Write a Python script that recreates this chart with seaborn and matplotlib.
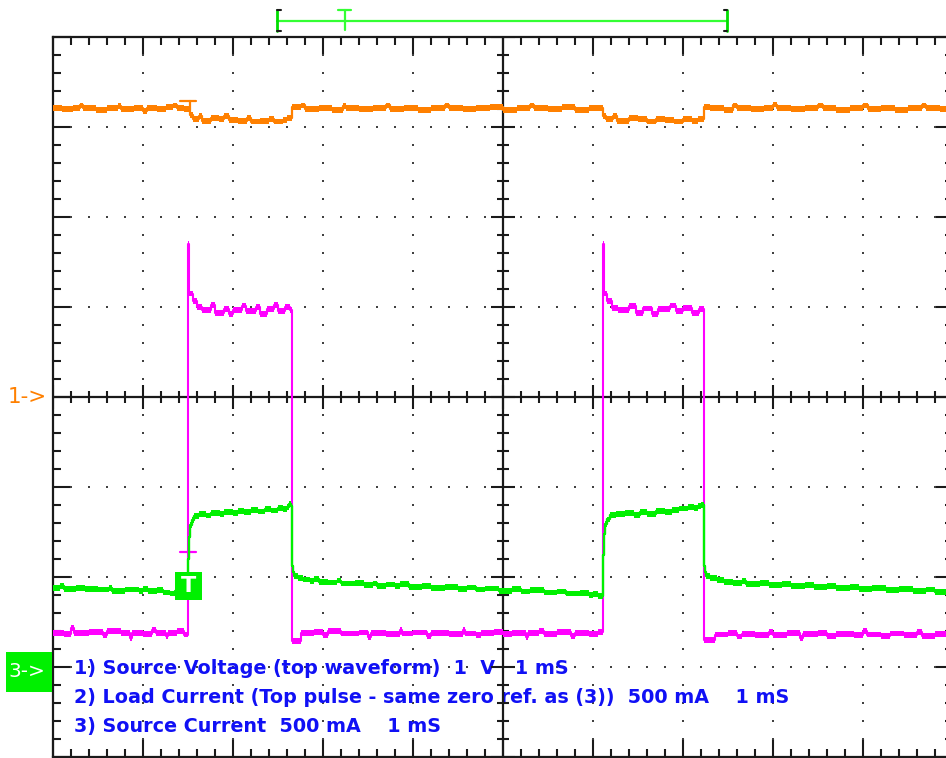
import numpy as np
import pandas as pd
import matplotlib
matplotlib.use("Agg")
import matplotlib.pyplot as plt
from matplotlib.patches import Rectangle
from matplotlib.ticker import MultipleLocator
import seaborn as sns

# ---------------- data (time in ms) ----------------
# Channel 1: source voltage [V]
ORANGE_T = [0.00, 0.10, 0.22, 0.30, 0.33, 0.48, 0.60, 0.72, 0.76, 0.90, 1.00, 1.04, 1.15, 1.25,
            1.33, 1.38, 1.46, 1.52, 1.55, 1.62, 1.66, 1.75, 1.84, 1.90, 1.95, 2.05, 2.15, 2.20,
            2.30, 2.40, 2.45, 2.55, 2.60, 2.66, 2.75, 2.80, 2.95, 3.10, 3.22, 3.26, 3.40, 3.55,
            3.70, 3.74, 3.90, 4.05, 4.20, 4.35, 4.40, 4.55, 4.70, 4.85, 5.00, 5.15, 5.30, 5.34,
            5.50, 5.65, 5.80, 5.95, 6.05, 6.11, 6.14, 6.22, 6.27, 6.40, 6.50, 6.60, 6.70, 6.80,
            6.90, 7.00, 7.10, 7.17, 7.23, 7.30, 7.45, 7.55, 7.60, 7.75, 7.90, 8.00, 8.04, 8.20,
            8.35, 8.50, 8.55, 8.70, 8.85, 9.00, 9.05, 9.20, 9.35, 9.50, 9.65, 9.70, 9.85, 10.00]
ORANGE_V = [3.21, 3.20, 3.21, 3.24, 3.21, 3.19, 3.21, 3.23, 3.20, 3.21, 3.18, 3.21, 3.20, 3.22,
            3.24, 3.21, 3.20, 3.13, 3.09, 3.12, 3.07, 3.10, 3.09, 3.12, 3.08, 3.07, 3.10, 3.06,
            3.07, 3.09, 3.06, 3.08, 3.10, 3.22, 3.24, 3.20, 3.21, 3.19, 3.23, 3.21, 3.20, 3.21,
            3.24, 3.20, 3.21, 3.19, 3.21, 3.24, 3.21, 3.20, 3.21, 3.22, 3.19, 3.21, 3.24, 3.21,
            3.20, 3.22, 3.19, 3.21, 3.21, 3.12, 3.09, 3.12, 3.07, 3.10, 3.09, 3.06, 3.09, 3.08,
            3.06, 3.09, 3.07, 3.09, 3.22, 3.21, 3.19, 3.24, 3.21, 3.20, 3.21, 3.25, 3.21, 3.20,
            3.21, 3.24, 3.21, 3.19, 3.21, 3.24, 3.20, 3.21, 3.19, 3.21, 3.24, 3.21, 3.20, 3.20]

# Channel 2: load current [mA]
MAGENTA_T = [0.00, 0.12, 0.20, 0.23, 0.40, 0.55, 0.60, 0.75, 0.85, 0.88, 1.00, 1.10, 1.14, 1.25,
             1.28, 1.38, 1.45, 1.50, 1.515, 1.55, 1.60, 1.66, 1.75, 1.80, 1.90, 1.95, 2.00, 2.10,
             2.14, 2.25, 2.30, 2.38, 2.45, 2.50, 2.58, 2.63, 2.656, 2.76, 2.90, 3.00, 3.05, 3.20,
             3.40, 3.50, 3.53, 3.70, 3.85, 3.88, 4.00, 4.15, 4.20, 4.40, 4.55, 4.58, 4.70, 4.75,
             4.90, 5.00, 5.10, 5.25, 5.28, 5.40, 5.45, 5.60, 5.75, 5.80, 5.95, 6.05, 6.11, 6.125,
             6.16, 6.21, 6.28, 6.40, 6.48, 6.55, 6.65, 6.72, 6.85, 6.92, 7.00, 7.10, 7.18, 7.235,
             7.36, 7.50, 7.60, 7.65, 7.80, 7.95, 8.00, 8.15, 8.30, 8.33, 8.50, 8.60, 8.70, 8.90,
             9.00, 9.04, 9.20, 9.30, 9.45, 9.60, 9.65, 9.80, 10.00]
MAGENTA_MA = [190, 182, 215, 188, 194, 178, 200, 188, 160, 190, 184, 205, 188, 170,
              190, 198, 180, 2350, 2075, 2035, 2000, 1982, 2010, 1965, 1990, 1960, 1985, 2008,
              1978, 1998, 1962, 1990, 2010, 1976, 1998, 1984, 145, 188, 194, 176, 202, 186,
              192, 166, 190, 184, 206, 186, 192, 174, 190, 184, 206, 186, 176, 190,
              196, 182, 190, 168, 190, 200, 184, 194, 174, 190, 184, 196, 2350, 2075,
              2035, 1995, 1982, 2005, 1968, 1992, 1962, 1988, 2008, 1976, 1994, 1966, 1988, 150,
              180, 188, 170, 184, 178, 196, 178, 188, 162, 182, 190, 172, 184, 178,
              198, 180, 172, 186, 178, 194, 172, 184, 182]

# Channel 3: source current [mA]
GREEN_T = [0.00, 0.08, 0.12, 0.25, 0.35, 0.50, 0.62, 0.66, 0.80, 0.95, 1.00, 1.05, 1.15, 1.22,
           1.30, 1.36, 1.40, 1.46, 1.50, 1.505, 1.515, 1.525, 1.54, 1.57, 1.62, 1.70, 1.75, 1.85,
           1.90, 2.00, 2.05, 2.12, 2.20, 2.28, 2.35, 2.42, 2.50, 2.55, 2.60, 2.62, 2.64, 2.656,
           2.665, 2.68, 2.72, 2.78, 2.85, 2.90, 2.95, 3.05, 3.15, 3.20, 3.35, 3.45, 3.55, 3.60,
           3.70, 3.80, 3.85, 3.95, 4.10, 4.20, 4.35, 4.50, 4.60, 4.70, 4.80, 4.95, 5.10, 5.20,
           5.30, 5.45, 5.60, 5.70, 5.85, 5.95, 6.00, 6.05, 6.11, 6.12, 6.13, 6.15, 6.19, 6.25,
           6.35, 6.45, 6.52, 6.60, 6.70, 6.80, 6.88, 6.95, 7.05, 7.12, 7.17, 7.20, 7.235, 7.245,
           7.26, 7.30, 7.38, 7.45, 7.55, 7.65, 7.70, 7.85, 7.95, 8.10, 8.20, 8.35, 8.45, 8.60,
           8.70, 8.85, 8.95, 9.10, 9.25, 9.40, 9.55, 9.70, 9.80, 10.00]
GREEN_MA = [440, 452, 434, 440, 432, 430, 438, 424, 430, 424, 434, 422, 426, 414,
            408, 420, 404, 414, 398, 600, 720, 790, 815, 838, 848, 842, 856, 848,
            860, 855, 868, 860, 872, 864, 878, 870, 884, 878, 890, 908, 895, 560,
            530, 505, 494, 486, 478, 488, 474, 470, 480, 464, 468, 456, 464, 450,
            458, 448, 460, 446, 450, 440, 446, 434, 442, 430, 436, 424, 432, 420,
            426, 414, 420, 408, 412, 402, 406, 396, 620, 740, 795, 820, 846, 850,
            856, 846, 860, 852, 868, 862, 874, 880, 888, 882, 894, 900, 560, 530,
            505, 494, 482, 474, 468, 476, 462, 466, 456, 462, 450, 456, 444, 450,
            440, 446, 434, 438, 428, 432, 424, 430, 418, 420]

LEGEND_LINES = ["1) Source Voltage (top waveform)  1  V   1 mS",
                "2) Load Current (Top pulse - same zero ref. as (3))  500 mA    1 mS",
                "3) Source Current  500 mA    1 mS"]

VOLT_PER_DIV = 1.0
MA_PER_DIV = 500.0
CH1_ZERO = 0.0      # divisions
CH3_ZERO = -3.0     # divisions (ch2 shares it)
TRIG_TIME = 1.5     # ms
TRIG_LEVEL = 450    # mA on ch3
WINDOW = (2.49, 7.49, 3.24)   # memory window start, end, trigger mark (ms)

ORANGE = "#ff8000"
MAGENTA = "#ff00ff"
GREEN = "#00f000"
BLUE = "#1010f5"
INK = "#1a1a1a"
BAND = 0.032        # half-thickness of the noise band, divisions


def ch1(v):
    return np.asarray(v, float) / VOLT_PER_DIV + CH1_ZERO


def ch3(ma):
    return np.asarray(ma, float) / MA_PER_DIV + CH3_ZERO


sns.set_theme(style="white")
plt.rcParams["font.family"] = ["DejaVu Sans"]

fig = plt.figure(figsize=(9.46, 7.58), dpi=100)
fig.patch.set_facecolor("white")
ax = fig.add_axes([53 / 946, 1 / 758, 900 / 946, 720 / 758])
ax.set_facecolor("white")
ax.set_xlim(0, 10)
ax.set_ylim(-4, 4)

# outer frame ticks
ax.xaxis.set_major_locator(MultipleLocator(1))
ax.yaxis.set_major_locator(MultipleLocator(1))
ax.xaxis.set_minor_locator(MultipleLocator(0.2))
ax.yaxis.set_minor_locator(MultipleLocator(0.2))
ax.tick_params(which="both", direction="in", top=True, right=True, bottom=True, left=True,
               labelleft=False, labelbottom=False, color=INK, width=1.5)
ax.tick_params(which="major", length=13)
ax.tick_params(which="minor", length=5.5)
for s in ax.spines.values():
    s.set_visible(True)
    s.set_color(INK)
    s.set_linewidth(1.6)
ax.grid(False)

# dotted graticule
xs = np.arange(0, 10.001, 0.2)
ys = np.arange(-4, 4.001, 0.2)
for gx in [1, 2, 3, 4, 6, 7, 8, 9]:
    ax.plot(np.full_like(ys, gx), ys, ls="none", marker="s", ms=1.6, mew=0, color="#404040", zorder=1)
for gy in [-3, -2, -1, 1, 2, 3]:
    ax.plot(xs, np.full_like(xs, gy), ls="none", marker="s", ms=1.6, mew=0, color="#404040", zorder=1)

# centre cross with ticks
ax.axhline(0, color=INK, lw=1.6, zorder=2)
ax.axvline(5, color=INK, lw=1.6, zorder=2)
minor_h, major_h = 0.072, 0.135
is_major_x = np.isclose(xs, np.round(xs))
ax.vlines(xs[~is_major_x], -minor_h, minor_h, color=INK, lw=1.5, zorder=2)
ax.vlines(xs[is_major_x], -major_h, major_h, color=INK, lw=1.5, zorder=2)
is_major_y = np.isclose(ys, np.round(ys))
ax.hlines(ys[~is_major_y], 5 - minor_h, 5 + minor_h, color=INK, lw=1.5, zorder=2)
ax.hlines(ys[is_major_y], 5 - major_h, 5 + major_h, color=INK, lw=1.5, zorder=2)

# legend text
for i, line in enumerate(LEGEND_LINES):
    ax.text(0.235, -3.02 - 0.318 * i, line, color=BLUE, fontsize=13.8, fontweight="bold",
            ha="left", va="center", zorder=1.5)

# traces
traces = [
    (ORANGE_T, ch1(ORANGE_V), ORANGE, 1.6, 3),
    (MAGENTA_T, ch3(MAGENTA_MA), MAGENTA, 1.5, 3),
    (GREEN_T, ch3(GREEN_MA), GREEN, 1.7, 4),
]
for t, y, col, lw, z in traces:
    df = pd.DataFrame({"t": t, "y": y})
    sns.lineplot(data=df, x="t", y="y", ax=ax, color=col, lw=lw, drawstyle="steps-post",
                 estimator=None, sort=False, zorder=z)
    ax.fill_between(df["t"], df["y"] - BAND, df["y"] + BAND, step="post", color=col,
                    lw=0, zorder=z)
ax.set_xlabel("")
ax.set_ylabel("")

# trigger markers on traces
ax.plot([TRIG_TIME - 0.085, TRIG_TIME + 0.085], [3.29, 3.29], color=ORANGE, lw=1.6, zorder=3)
ax.plot([TRIG_TIME + 0.02, TRIG_TIME + 0.02], [3.29, 3.2], color=ORANGE, lw=1.6, zorder=3)
ax.plot([TRIG_TIME - 0.09, TRIG_TIME + 0.09], [-1.72, -1.72], color=MAGENTA, lw=1.6, zorder=3)
tl = ch3(TRIG_LEVEL)
ax.add_patch(Rectangle((TRIG_TIME - 0.145, tl - 0.155), 0.3, 0.31, facecolor=GREEN,
                       edgecolor="none", zorder=5))
ax.text(TRIG_TIME + 0.005, tl, "T", color="white", fontsize=16, fontweight="bold",
        ha="center", va="center", zorder=6)

# channel markers at left
ytr = ax.get_yaxis_transform()
ax.text(-0.007, CH1_ZERO, "1->", color=ORANGE, fontsize=15.5, ha="right", va="center",
        transform=ytr, clip_on=False)
ax.add_patch(Rectangle((-0.0522, CH3_ZERO - 0.28), 0.0511, 0.445, facecolor=GREEN,
                       edgecolor="none", transform=ytr, clip_on=False, zorder=5))
ax.text(-0.0285, CH3_ZERO - 0.05, "3->", color="white", fontsize=14.5, ha="center", va="center",
        transform=ytr, clip_on=False, zorder=6)

# memory window bracket above the screen
xtr = ax.get_xaxis_transform()
yb, ytop, ybot = 1.0222, 1.0375, 1.0083
w0, w1, wt = WINDOW
ax.plot([w0, w1], [yb, yb], color="#33ff33", lw=1.6, transform=xtr, clip_on=False)
ax.plot([w0, w0], [ybot, ytop], color="#00dd00", lw=2.0, transform=xtr, clip_on=False)
ax.plot([w0, w0 + 0.04], [ytop, ytop], color=INK, lw=1.5, transform=xtr, clip_on=False)
ax.plot([w0, w0 + 0.04], [ybot, ybot], color=INK, lw=1.5, transform=xtr, clip_on=False)
ax.plot([w1, w1], [ybot, ytop], color="#00dd00", lw=2.0, transform=xtr, clip_on=False)
ax.plot([w1 - 0.04, w1], [ytop, ytop], color=INK, lw=1.5, transform=xtr, clip_on=False)
ax.plot([w1 - 0.04, w1], [ybot, ybot], color=INK, lw=1.5, transform=xtr, clip_on=False)
ax.plot([wt - 0.07, wt + 0.07], [ytop, ytop], color="#33ff33", lw=1.6, transform=xtr, clip_on=False)
ax.plot([wt, wt], [ybot + 0.002, ytop], color="#33ff33", lw=1.6, transform=xtr, clip_on=False)

fig.savefig("out.png", dpi=100, facecolor="white")
